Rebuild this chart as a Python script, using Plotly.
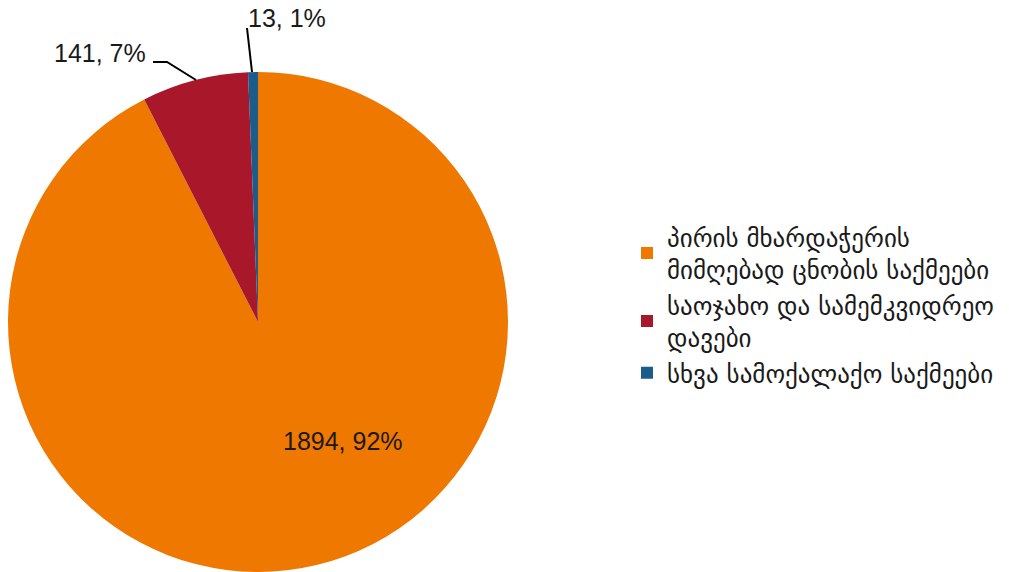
import plotly.graph_objects as go

categories = [
    "პირის მხარდაჭერის<br>მიმღებად ცნობის საქმეები",
    "საოჯახო და სამემკვიდრეო<br>დავები",
    "სხვა სამოქალაქო საქმეები",
]
values = [1894, 141, 13]
colors = ["#EE7800", "#A8172A", "#1B5C8A"]

total = sum(values)
label_texts = [f"{v}, {round(100 * v / total)}%" for v in values]

fig = go.Figure()
fig.add_trace(go.Pie(
    labels=categories,
    values=values,
    sort=False,
    direction="clockwise",
    rotation=0,
    marker=dict(colors=colors, line=dict(width=0)),
    textinfo="none",
    hoverinfo="label+value+percent",
    domain=dict(x=[8 / 1009, 508 / 1009], y=[0, 500 / 572]),
    showlegend=True,
))

W, H = 1009, 572
def px(x, y):
    return x / W, 1 - y / H

label_pos = [(343, 441), (100, 53), (287, 18)]
for t, (x, y) in zip(label_texts, label_pos):
    ax, ay = px(x, y)
    fig.add_annotation(x=ax, y=ay, xref="paper", yref="paper", text=t,
                       xanchor="center", yanchor="middle",
                       showarrow=False, font=dict(family="Liberation Sans, Arial", size=25, color="#1a1a1a"))

# leader lines
lines = [[(153, 62), (167, 62), (196, 80)], [(247, 28), (252, 72)]]
for pts in lines:
    path = "M " + " L ".join(f"{px(x, y)[0]},{px(x, y)[1]}" for x, y in pts)
    fig.add_shape(type="path", path=path, xref="paper", yref="paper",
                  line=dict(color="#000000", width=2))

fig.update_layout(
    width=W, height=H,
    margin=dict(l=0, r=0, t=0, b=0),
    paper_bgcolor="white",
    plot_bgcolor="white",
    legend=dict(
        x=627 / W, y=1 - 305 / H, xanchor="left", yanchor="middle",
        font=dict(family="DejaVu Sans", size=25, color="#1a1a1a"),
        itemwidth=30,
    ),
)

fig.write_html("out.html", config={"displayModeBar": False},
               post_script="document.body.style.margin='0';")
